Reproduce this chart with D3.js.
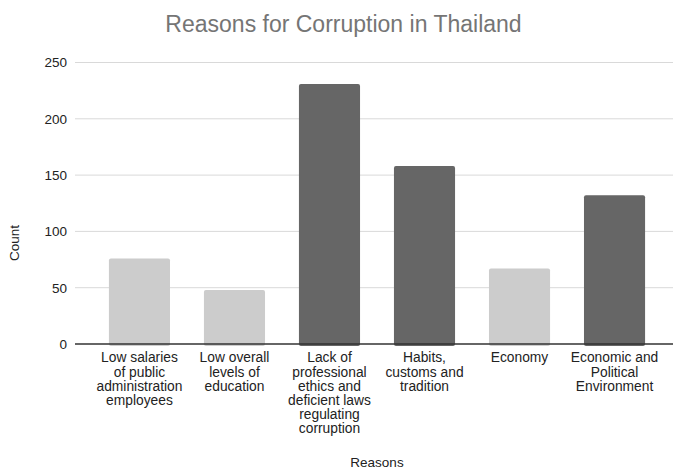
<!DOCTYPE html>
<html>
<head>
<meta charset="utf-8">
<script src="https://cdn.jsdelivr.net/npm/d3@7"></script>
<style>
  body { margin: 0; background: #fff; }
  svg { display: block; font-family: "Liberation Sans", Arial, sans-serif; }
</style>
</head>
<body>
<svg id="chart" width="673" height="469"></svg>
<script>
const categories = [
  ["Low salaries", "of public", "administration", "employees"],
  ["Low overall", "levels of", "education"],
  ["Lack of", "professional", "ethics and", "deficient laws", "regulating", "corruption"],
  ["Habits,", "customs and", "tradition"],
  ["Economy"],
  ["Economic and", "Political", "Environment"]
];
const counts = [76, 48, 231, 158, 67, 132];
const shades = ["light", "light", "dark", "dark", "light", "dark"];
const yTicks = [0, 50, 100, 150, 200, 250];
const chartTitle = "Reasons for Corruption in Thailand";
const xTitle = "Reasons";
const yTitle = "Count";

(function () {
const colorMap = { light: "#cccccc", dark: "#666666" };
const svg = d3.select("#chart");
const W = 673;
const mLeft = 75, mRight = 679, mTop = 62.5, mBottom = 344;

const ids = categories.map((c, i) => i);
const x = d3.scaleBand().domain(ids).range([mLeft, mRight]).padding(0.357);
const y = d3.scaleLinear().domain([0, 250]).range([mBottom, mTop]);

// gridlines
svg.append("g").selectAll("line").data(yTicks.filter(t => t !== 0)).join("line")
  .attr("x1", mLeft).attr("x2", W)
  .attr("y1", d => y(d)).attr("y2", d => y(d))
  .attr("stroke", "#d9d9d9").attr("stroke-width", 1);

// y tick labels
const yAxis = d3.axisLeft(y).tickValues(yTicks).tickSize(0).tickPadding(8);
const yg = svg.append("g").attr("transform", `translate(${mLeft},0)`).call(yAxis);
yg.select(".domain").remove();
yg.selectAll("text").attr("font-size", 13.5).attr("fill", "#222")
  .attr("font-family", "Liberation Sans, Arial, sans-serif");

// bars
svg.append("g").selectAll("rect").data(counts).join("rect")
  .attr("x", (d, i) => x(i))
  .attr("y", d => y(d))
  .attr("width", x.bandwidth())
  .attr("height", d => y(0) - y(d) + 2)
  .attr("rx", 2)
  .attr("fill", (d, i) => colorMap[shades[i]]);

// baseline
svg.append("line")
  .attr("x1", mLeft).attr("x2", W)
  .attr("y1", y(0)).attr("y2", y(0))
  .attr("stroke", "#333").attr("stroke-width", 1.3);

// x labels
const xl = svg.append("g");
categories.forEach((lines, i) => {
  const cx = x(i) + x.bandwidth() / 2;
  const t = xl.append("text")
    .attr("x", cx)
    .attr("y", 362.3)
    .attr("text-anchor", "middle")
    .attr("font-size", 13.8)
    .attr("fill", "#222");
  lines.forEach((ln, j) => {
    t.append("tspan").attr("x", cx)
      .attr("dy", j === 0 ? 0 : 14.2).text(ln);
  });
});

// title
svg.append("text").attr("x", 343.5).attr("y", 32.3)
  .attr("text-anchor", "middle").attr("font-size", 23)
  .attr("fill", "#757575").text(chartTitle);

// axis titles
svg.append("text").attr("x", (mLeft + mRight) / 2).attr("y", 466.5)
  .attr("text-anchor", "middle").attr("font-size", 13.5).attr("fill", "#222")
  .text(xTitle);

svg.append("text")
  .attr("transform", "translate(19,243) rotate(-90)")
  .attr("text-anchor", "middle").attr("font-size", 13.5).attr("fill", "#222")
  .text(yTitle);
})();
</script>
</body>
</html>
